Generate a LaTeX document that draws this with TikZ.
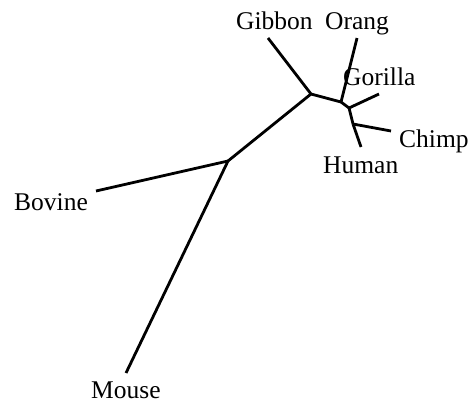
\documentclass[tikz,border=0pt]{standalone}
\usepackage{fontspec}
\setmainfont{Liberation Serif}
\begin{document}
\begin{tikzpicture}[x=1pt,y=-1pt,
  branch/.style={line width=2.8pt,line cap=butt,line join=round},
  taxon/.style={inner sep=0pt,anchor=base west,font=\fontsize{25.5}{30}\selectfont}]
\useasboundingbox (0,0) rectangle (470,402);
% internal nodes of the unrooted tree
\coordinate (A) at (311,94);
\coordinate (B) at (341,102);
\coordinate (C) at (349,108);
\coordinate (D) at (353,124);
\coordinate (E) at (228,161);
% branch tips
\coordinate (tGibbon) at (268,38);
\coordinate (tOrang) at (357,38);
\coordinate (tGorilla) at (379,94);
\coordinate (tChimp) at (391,131);
\coordinate (tHuman) at (361,147);
\coordinate (tBovine) at (96,191);
\coordinate (tMouse) at (126,373);
% branches
\draw[branch] (tGibbon) -- (A);
\draw[branch] (A) -- (E);
\draw[branch] (A) -- (B);
\draw[branch] (B) -- (tOrang);
\draw[branch] (B) -- (C);
\draw[branch] (C) -- (tGorilla);
\draw[branch] (C) -- (D);
\draw[branch] (D) -- (tChimp);
\draw[branch] (D) -- (tHuman);
\draw[branch] (E) -- (tBovine);
\draw[branch] (E) -- (tMouse);
% taxon labels
\node[taxon] (lGibbon) at (236,29) {Gibbon};
\node[taxon] (lOrang) at (325,29) {Orang};
\node[taxon] (lGorilla) at (343,85) {Gorilla};
\node[taxon] (lChimp) at (399,147) {Chimp};
\node[taxon] (lHuman) at (323,173) {Human};
\node[taxon] (lBovine) at (14,210) {Bovine};
\node[taxon] (lMouse) at (91,398) {Mouse};
\end{tikzpicture}
\end{document}
